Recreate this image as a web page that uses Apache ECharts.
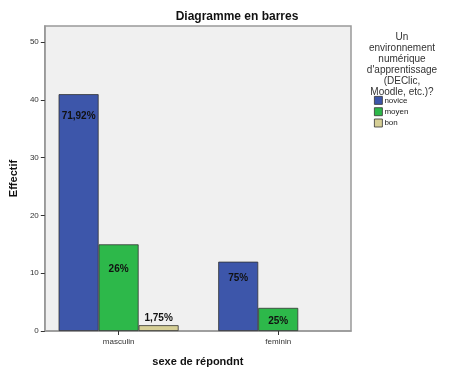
<!DOCTYPE html>
<html><head><meta charset="utf-8">
<script src="https://cdn.jsdelivr.net/npm/echarts@6/dist/echarts.min.js"></script>
<style>html,body{margin:0;padding:0;background:#fff}#c{width:469px;height:375px}</style>
</head><body><div id="c"></div>
<script>
const categories = ['masculin', 'feminin'];
const seriesNames = ['novice', 'moyen', 'bon'];
const novice = [41, 12];
const moyen = [15, 4];
const bon = [1, 0];
const noviceLabels = ['71,92%', '75%'];
const moyenLabels = ['26%', '25%'];
const bonLabels = ['1,75%', ''];
const yTicks = [0, 10, 20, 30, 40, 50];
const catPos = [0, 1];

const colors = ['#3d56aa', '#2db84a', '#d6cf96'];
const font = 'Liberation Sans, Arial, sans-serif';

function mkData(vals, labels, labelCfgs) {
  return vals.map((v, i) => ({
    value: [catPos[i], v],
    itemStyle: v === 0 ? { borderWidth: 0 } : undefined,
    label: Object.assign({ show: labels[i] !== '', formatter: labels[i] }, labelCfgs[i])
  }));
}
const labelBase = { fontSize: 10, fontWeight: 'bold', color: '#111', fontFamily: font };
const seriesData = [
  mkData(novice, noviceLabels, [{ position: 'insideTop', distance: 17 }, { position: 'insideTop', distance: 12 }]),
  mkData(moyen, moyenLabels, [{ position: 'insideTop', distance: 20 }, { position: 'insideTop', distance: 8 }]),
  mkData(bon, bonLabels, [{ position: 'top', distance: 2 }, { position: 'top', distance: 2 }])
];

const chart = echarts.init(document.getElementById('c'));
chart.setOption({
  backgroundColor: '#fff',
  animation: false,
  title: [
    { text: 'Diagramme en barres', left: 232, top: 6, textAlign: 'center',
      textStyle: { fontSize: 12, fontWeight: 'bold', color: '#111', fontFamily: font } },
    { text: "Un\nenvironnement\nnumérique\nd'apprentissage\n(DEClic,\nMoodle, etc.)?", left: 397, top: 27, textAlign: 'center',
      textStyle: { fontSize: 10, fontWeight: 'normal', color: '#333', lineHeight: 11, fontFamily: font } }
  ],
  legend: {
    data: seriesNames, orient: 'vertical', left: 369, top: 91,
    itemWidth: 8, itemHeight: 8, itemGap: 2.5, icon: 'rect',
    textStyle: { fontSize: 8, color: '#222', fontFamily: font, padding: [0, 0, 0, -3] },
    itemStyle: { borderColor: '#333', borderWidth: 0.8 }
  },
  grid: { left: 44, right: 118, top: 26, bottom: 44, show: true, backgroundColor: '#f0f0f0', borderColor: '#999', borderWidth: 1.5 },
  xAxis: {
    type: 'value', min: -0.4625, max: 1.456,
    name: 'sexe de répondnt', nameLocation: 'middle', nameGap: 25,
    nameTextStyle: { fontSize: 11, fontWeight: 'bold', color: '#111', fontFamily: font },
    axisLine: { show: true, onZero: false, lineStyle: { color: '#999', width: 1.5 } },
    axisTick: { show: true, length: 4, lineStyle: { color: '#333' }, customValues: catPos },
    axisLabel: { fontSize: 8, color: '#333', margin: 7, fontFamily: font, customValues: catPos,
      formatter: v => categories[Math.round(v)] },
    splitLine: { show: false }
  },
  yAxis: {
    type: 'value', min: 0, max: 52.8, interval: 10,
    name: 'Effectif', nameLocation: 'middle', nameGap: 21,
    nameTextStyle: { fontSize: 11, fontWeight: 'bold', color: '#111', fontFamily: font },
    axisLine: { show: true, onZero: false, lineStyle: { color: '#999', width: 1.5 } },
    axisTick: { show: true, length: 4, lineStyle: { color: '#333' }, customValues: yTicks },
    axisLabel: { fontSize: 8, color: '#333', margin: 6, fontFamily: font, customValues: yTicks },
    splitLine: { show: false }
  },
  series: seriesNames.map((n, k) => ({
    name: n, type: 'bar', data: seriesData[k], barWidth: 40, barGap: '0%',
    itemStyle: { color: colors[k], borderColor: '#333', borderWidth: 0.8 },
    label: labelBase
  }))
});
</script></body></html>
